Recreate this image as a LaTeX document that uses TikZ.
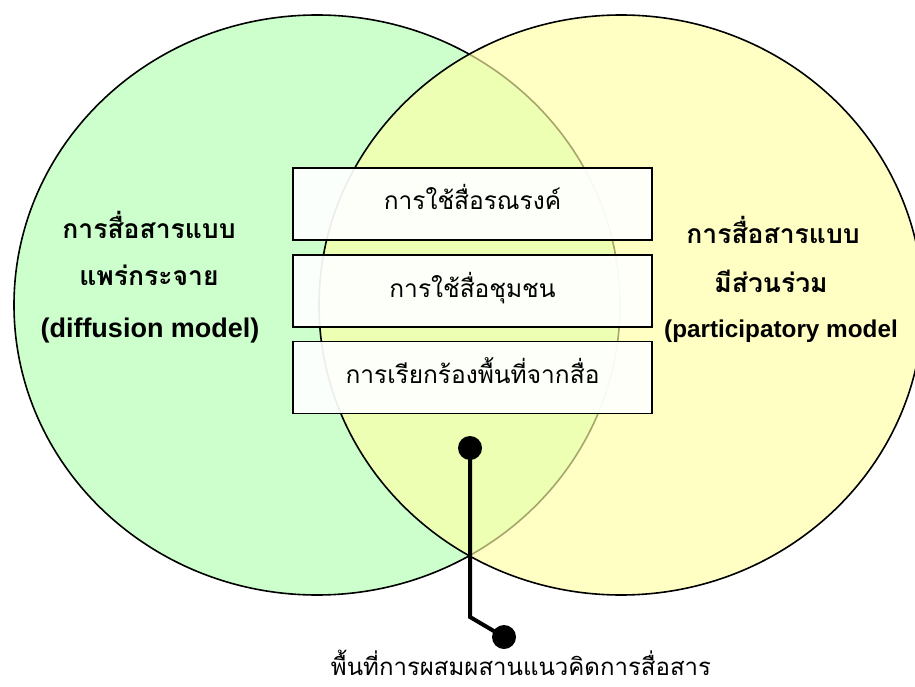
\documentclass[tikz,border=0pt]{standalone}
\usepackage{fontspec}
\setmainfont{Liberation Sans}
\newfontfamily\thaifont[Script=Thai]{Loma}
\begin{document}
\begin{tikzpicture}[x=1pt,y=-1pt,
  setfill/.style={line width=1.6pt},
  itembox/.style={draw=black,line width=1.5pt,fill=white,fill opacity=0.93,text opacity=1,
    minimum width=359pt,minimum height=72pt,inner sep=0pt,text height=18pt,text depth=6pt,
    font=\thaifont\fontsize{24.5}{28}\selectfont},
  sidelabel/.style={inner sep=0pt,anchor=base},
  thaibold/.style={font=\thaifont\bfseries\fontsize{26.5}{30}\selectfont},
  engbold/.style={font=\bfseries\fontsize{27}{30}\selectfont},
  dot/.style={circle,fill=black,inner sep=0pt,minimum size=24pt},
  conn/.style={line width=4pt}]
\useasboundingbox (0,0) rectangle (915,687);
\definecolor{setgreen}{RGB}{204,255,204}
\definecolor{setyellow}{RGB}{255,255,165}

% the two sets
\fill[setgreen] (317,305) ellipse [x radius=303,y radius=290];
\draw[setfill] (317,305) ellipse [x radius=303,y radius=290];
\fill[setyellow,fill opacity=0.65] (621,305) ellipse [x radius=302,y radius=290];
\draw[setfill] (621,305) ellipse [x radius=302,y radius=290];

% labels of the sets
\node[sidelabel,thaibold] (l1) at (149,238) {การสื่อสารแบบ};
\node[sidelabel,thaibold] (l2) at (149,285) {แพร่กระจาย};
\node[sidelabel,engbold] (l3) at (150,337) {(diffusion model)};
\node[sidelabel,thaibold] (r1) at (773,243) {การสื่อสารแบบ};
\node[sidelabel,thaibold] (r2) at (771,292) {มีส่วนร่วม};
\node[sidelabel,engbold,font=\bfseries\fontsize{24.3}{28}\selectfont] (r3) at (781,337) {(participatory model};

% shared practices
\node[itembox] (b1) at (472.5,204) {การใช้สื่อรณรงค์};
\node[itembox] (b2) at (472.5,291) {การใช้สื่อชุมชน};
\node[itembox] (b3) at (472.5,377.5) {การเรียกร้องพื้นที่จากสื่อ};

% pointer to the overlap
\node[dot] (d1) at (470,448) {};
\coordinate (bend) at (470,617);
\node[dot] (d2) at (504,637) {};
\draw[conn] (d1.center) -- (bend) -- (d2.center);
\node[font=\thaifont\fontsize{24}{28}\selectfont,inner sep=0pt,anchor=base] (cap) at (521,675) {พื้นที่การผสมผสานแนวคิดการสื่อสาร};
\end{tikzpicture}
\end{document}
